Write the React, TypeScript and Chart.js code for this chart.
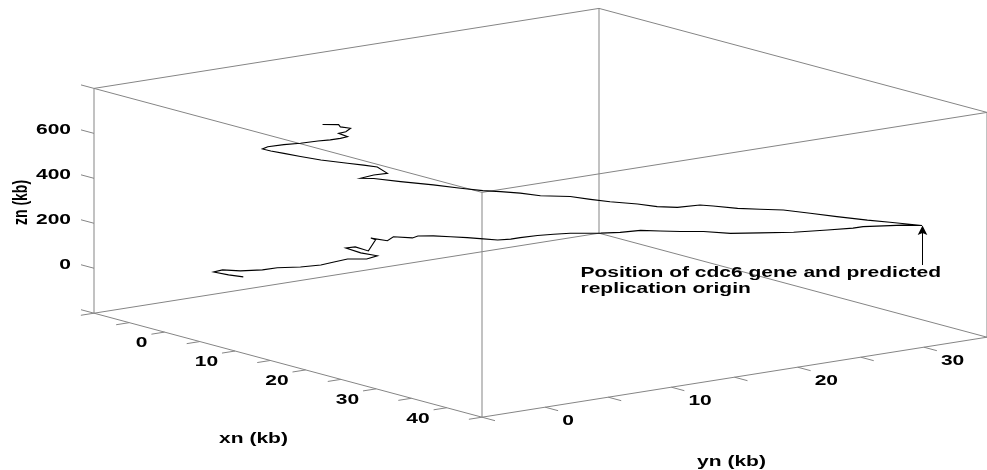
import React, { useEffect, useRef } from 'react';
import { Chart, registerables } from 'chart.js';

Chart.register(...registerables);

// ---- axis limits and ticks (data units, kb) ----
const xnLimits = [-10, 45];
const ynLimits = [-5, 35];
const znLimits = [-200, 800];
const xnTicks = [-10, -5, 0, 5, 10, 15, 20, 25, 30, 35, 40, 45];
const ynTicks = [-5, 0, 5, 10, 15, 20, 25, 30, 35];
const znTicks = [-200, 0, 200, 400, 600, 800];
const xnTickLabels = [0, 10, 20, 30, 40];
const ynTickLabels = [0, 10, 20, 30];
const znTickLabels = [0, 200, 400, 600];

// ---- trajectory (xn, yn, zn in kb) ----
const xnValues = [
  -6.0, -7.0, -8.0, -7.4, -6.2, -4.7, -3.7, -2.1, -0.7, 0.2, 1.1, 2.4, 3.1, 2.0, 1.0, 1.6,
  2.5, 3.0, 2.7, 3.8, 4.2, 5.5, 5.9, 6.9, 8.1, 9.2, 10.3, 11.3, 12.2, 12.8, 14.0, 15.1,
  16.2, 18.3, 19.6, 21.0, 22.3, 23.7, 25.3, 27.1, 29.1, 31.4, 33.7, 35.4, 36.1, 37.5, 38.8, 40.1,
  37.9, 36.4, 34.3, 32.5, 30.7, 29.1, 27.6, 25.9, 25.0, 23.5, 22.1, 20.8, 18.9, 17.6, 16.2, 14.2,
  12.8, 11.5, 10.3, 8.8, 6.9, 4.7, 2.9, 2.0, 2.9, 3.8, 3.1, 2.2, 1.1, -0.7, -2.1, -3.2,
  -4.1, -4.7, -4.3, -3.2, -2.1, -0.9, -0.1, 0.6, 1.1, 0.5, 1.0, 1.3, 0.6, 0.5, -0.6,
];
const ynValues = [
  4.59, 3.98, 3.36, 3.73, 4.47, 5.38, 6.0, 6.94, 7.77, 8.31, 8.88, 9.67, 10.12, 9.42, 8.8, 9.21,
  9.75, 10.04, 9.83, 10.53, 10.78, 11.56, 11.77, 12.43, 13.13, 13.83, 14.49, 15.07, 15.6, 16.02, 16.72, 17.38,
  18.08, 19.32, 20.14, 20.97, 21.79, 22.62, 23.56, 24.68, 25.91, 27.28, 28.68, 29.75, 30.16, 30.99, 31.81, 32.59,
  31.28, 30.33, 29.09, 27.98, 26.86, 25.91, 24.97, 23.98, 23.44, 22.49, 21.67, 20.84, 19.73, 18.9, 18.08, 16.84,
  16.02, 15.19, 14.45, 13.54, 12.43, 11.07, 9.95, 9.42, 9.95, 10.53, 10.12, 9.54, 8.88, 7.77, 6.94, 6.24,
  5.71, 5.38, 5.58, 6.24, 6.94, 7.65, 8.18, 8.59, 8.88, 8.51, 8.8, 9.01, 8.59, 8.51, 7.85,
];
const znValues = [
  -90, -84, -74, -63, -64, -55, -43, -34, -21, -5, 11, 15, 31, 41, 60, 66,
  51, 102, 109, 100, 119, 118, 128, 131, 131, 130, 128, 126, 133, 141, 154, 163,
  171, 178, 185, 198, 199, 201, 206, 203, 211, 221, 238, 251, 260, 268, 275, 277,
  285, 290, 299, 309, 318, 316, 316, 321, 323, 308, 307, 315, 319, 326, 334, 332,
  339, 342, 343, 349, 358, 366, 375, 373, 390, 400, 426, 432, 437, 446, 457, 468,
  476, 483, 494, 507, 516, 530, 537, 546, 555, 568, 577, 593, 597, 607, 604,
];
const originIndex = 47; // cdc6 gene / predicted replication origin

const annotationLines = ['Position of cdc6 gene and predicted', 'replication origin'];
const xnTitle = 'xn (kb)';
const ynTitle = 'yn (kb)';
const znTitle = 'zn (kb)';

// ---- view / layout ----
const VIEW_W = 987;
const VIEW_H = 470;
const ORIGIN = [94, 313.2]; // screen spot of (xnMin, ynMin, znMin)
const XN_EDGE = [388, 104];
const YN_EDGE = [505, -80];
const ZN_EDGE = [0, -224.8];
const FONT = 'bold 14px "Liberation Sans", Arial, Helvetica, sans-serif';
const STRETCH = 1.5;
const EDGE_COLOR = '#858585';

function project(xn: number, yn: number, zn: number) {
  const a = (xn - xnLimits[0]) / (xnLimits[1] - xnLimits[0]);
  const b = (yn - ynLimits[0]) / (ynLimits[1] - ynLimits[0]);
  const c = (zn - znLimits[0]) / (znLimits[1] - znLimits[0]);
  return {
    x: ORIGIN[0] + a * XN_EDGE[0] + b * YN_EDGE[0] + c * ZN_EDGE[0],
    y: ORIGIN[1] + a * XN_EDGE[1] + b * YN_EDGE[1] + c * ZN_EDGE[1],
  };
}

function segment(p: { x: number; y: number }, q: { x: number; y: number }, color: string, width = 1) {
  return {
    data: [p, q],
    showLine: true,
    borderColor: color,
    borderWidth: width,
    pointRadius: 0,
    order: 2,
    clip: false as const,
  };
}

function drawStretched(ctx: CanvasRenderingContext2D, text: string, x: number, y: number, align: CanvasTextAlign, baseline: CanvasTextBaseline = 'middle') {
  ctx.save();
  ctx.translate(x, y);
  ctx.scale(STRETCH, 1);
  ctx.textAlign = align;
  ctx.textBaseline = baseline;
  ctx.fillText(text, 0, 0);
  ctx.restore();
}

export default function App() {
  const ref = useRef<HTMLCanvasElement>(null);

  useEffect(() => {
    const canvas = ref.current;
    if (!canvas) return;
    const [x0, x1] = xnLimits;
    const [y0, y1] = ynLimits;
    const [z0, z1] = znLimits;

    const datasets: any[] = [];
    datasets.push({
      data: xnValues.map((v, i) => project(v, ynValues[i], znValues[i])),
      showLine: true,
      borderColor: '#000000',
      borderWidth: 1.1,
      pointRadius: 0,
      tension: 0,
      order: 0,
      clip: false,
    });

    // box edges
    const xs = [x0, x1], ys = [y0, y1], zs = [z0, z1];
    for (const y of ys) for (const z of zs) datasets.push(segment(project(x0, y, z), project(x1, y, z), EDGE_COLOR));
    for (const x of xs) for (const z of zs) datasets.push(segment(project(x, y0, z), project(x, y1, z), EDGE_COLOR));
    for (const x of xs) for (const y of ys) datasets.push(segment(project(x, y, z0), project(x, y, z1), EDGE_COLOR));

    // tick marks
    const xTickLen = 0.0335 * (x1 - x0);
    const yTickLen = 0.026 * (y1 - y0);
    xnTicks.forEach((t) => datasets.push(segment(project(t, y0, z0), project(t, y0 - yTickLen, z0), EDGE_COLOR)));
    ynTicks.forEach((t) => datasets.push(segment(project(x1, t, z0), project(x1 + xTickLen, t, z0), EDGE_COLOR)));
    znTicks.forEach((t) => datasets.push(segment(project(x0, y0, t), project(x0 - xTickLen, y0, t), EDGE_COLOR)));

    const labelPlugin = {
      id: 'labels3d',
      afterDatasetsDraw(chart: any) {
        const ctx: CanvasRenderingContext2D = chart.ctx;
        const sx = chart.scales.x;
        const sy = chart.scales.y;
        const px = (p: { x: number; y: number }) => ({ x: sx.getPixelForValue(p.x), y: sy.getPixelForValue(p.y) });
        ctx.save();
        ctx.fillStyle = '#000';
        ctx.strokeStyle = '#000';
        ctx.font = FONT;

        xnTickLabels.forEach((t) => {
          const p = px(project(t, y0, z0));
          drawStretched(ctx, String(t), p.x - 17, p.y + 11, 'right');
        });
        ynTickLabels.forEach((t) => {
          const p = px(project(x1, t, z0));
          drawStretched(ctx, String(t), p.x + 17, p.y + 13.5, 'left');
        });
        znTickLabels.forEach((t) => {
          const p = px(project(x0, y0, t));
          drawStretched(ctx, String(t), p.x - 23, p.y - 3.5, 'right');
        });

        // axis titles
        const mx = px(project((x0 + x1) / 2, y0, z0));
        drawStretched(ctx, xnTitle, mx.x - 34.5, mx.y + 74, 'center');
        const my = px(project(x1, (y0 + y1) / 2, z0));
        drawStretched(ctx, ynTitle, my.x - 3, my.y + 84.5, 'center');
        const mz = px(project(x0, y0, (z0 + z1) / 2));
        ctx.save();
        ctx.translate(mz.x - 72.5, mz.y + 1.7);
        ctx.rotate(-Math.PI / 2);
        ctx.scale(1, STRETCH);
        ctx.textAlign = 'center';
        ctx.textBaseline = 'middle';
        ctx.fillText(znTitle, 0, 0);
        ctx.restore();

        // arrow to origin
        const tip = px(project(xnValues[originIndex], ynValues[originIndex], znValues[originIndex]));
        const tx = Math.round(tip.x) + 0.5;
        ctx.lineWidth = 1;
        ctx.beginPath();
        ctx.moveTo(tx, tip.y + 6);
        ctx.lineTo(tx, tip.y + 39.5);
        ctx.stroke();
        ctx.beginPath();
        ctx.moveTo(tx, tip.y);
        ctx.lineTo(tx + 4.8, tip.y + 9.5);
        ctx.lineTo(tx, tip.y + 7.5);
        ctx.lineTo(tx - 4.8, tip.y + 9.5);
        ctx.closePath();
        ctx.fill();

        // annotation
        annotationLines.forEach((line, i) => {
          drawStretched(ctx, line, tip.x - 341.5, tip.y + 51.8 + i * 15.4, 'left', 'alphabetic');
        });
        ctx.restore();
      },
    };

    const chart = new Chart(canvas, {
      type: 'scatter',
      data: { datasets },
      options: {
        animation: false,
        responsive: false,
        events: [],
        layout: { padding: 0 },
        plugins: { legend: { display: false }, tooltip: { enabled: false } },
        scales: {
          x: { type: 'linear', min: 0, max: VIEW_W, display: false },
          y: { type: 'linear', min: 0, max: VIEW_H, reverse: true, display: false },
        },
      },
      plugins: [labelPlugin],
    });
    return () => chart.destroy();
  }, []);

  return (
    <div style={{ position: 'fixed', left: 0, top: 0, width: VIEW_W, height: VIEW_H, background: '#fff' }}>
      <canvas ref={ref} width={VIEW_W} height={VIEW_H} style={{ display: 'block' }} />
    </div>
  );
}
